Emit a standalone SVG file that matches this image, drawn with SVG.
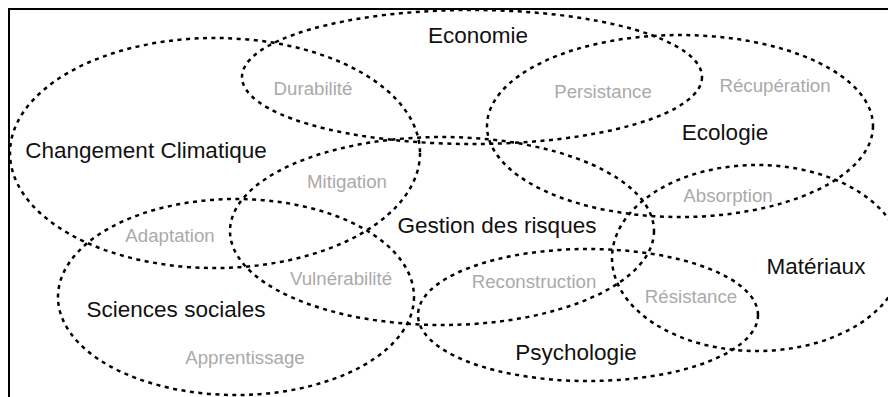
<svg xmlns="http://www.w3.org/2000/svg" width="888" height="397" viewBox="0 0 888 397">
<style>
.e{fill:none;stroke:#000;stroke-width:2.5;stroke-dasharray:4 4.5}
.t{font-family:"Liberation Sans",Arial,sans-serif;font-size:22.5px;fill:#111;text-anchor:middle}
.g{font-family:"Liberation Sans",Arial,sans-serif;font-size:18.7px;fill:#aaaaaa;text-anchor:middle}
</style>
<rect x="0" y="0" width="888" height="397" fill="#fff"/>
<path d="M9,397 V9 H888" fill="none" stroke="#000" stroke-width="2"/>
<g id="connectors">
</g>
<g id="changement-climatique">
<ellipse class="e" cx="215" cy="153" rx="205" ry="115"/>
<text class="t" x="146" y="158">Changement Climatique</text>
</g>
<g id="economie">
<ellipse class="e" cx="472" cy="77" rx="230" ry="67"/>
<text class="t" x="478" y="43">Economie</text>
</g>
<g id="ecologie">
<ellipse class="e" cx="680" cy="126" rx="193" ry="91"/>
<text class="t" x="725" y="140">Ecologie</text>
</g>
<g id="gestion">
<ellipse class="e" cx="442" cy="231" rx="212" ry="94"/>
<text class="t" x="497" y="233">Gestion des risques</text>
</g>
<g id="sciences-sociales">
<ellipse class="e" cx="236" cy="297" rx="178" ry="98"/>
<text class="t" x="176" y="317">Sciences sociales</text>
</g>
<g id="psychologie">
<ellipse class="e" cx="588" cy="315" rx="170" ry="66"/>
<text class="t" x="576" y="360">Psychologie</text>
</g>
<g id="materiaux">
<ellipse class="e" cx="757" cy="258" rx="145" ry="93"/>
<text class="t" x="816" y="274">Matériaux</text>
</g>
<g id="labels">
<text class="g" x="313" y="95">Durabilité</text>
<text class="g" x="347" y="188">Mitigation</text>
<text class="g" x="603" y="98">Persistance</text>
<text class="g" x="775" y="92">Récupération</text>
<text class="g" x="728" y="202">Absorption</text>
<text class="g" x="170" y="242">Adaptation</text>
<text class="g" x="341" y="285">Vulnérabilité</text>
<text class="g" x="245" y="364">Apprentissage</text>
<text class="g" x="534" y="288">Reconstruction</text>
<text class="g" x="691" y="303">Résistance</text>
</g>
</svg>
